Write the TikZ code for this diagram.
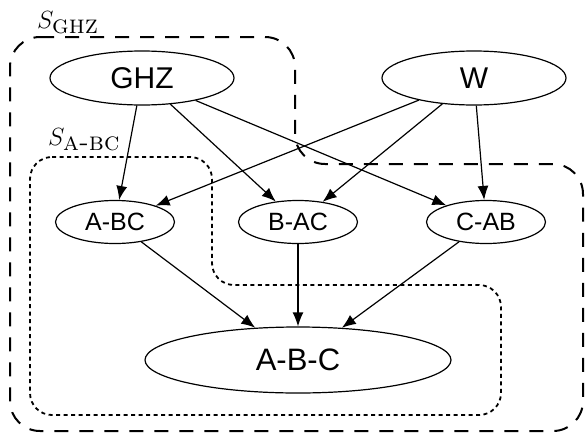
\documentclass[tikz,border=0pt]{standalone}
\usepackage{fontspec}
\newfontfamily\arialfont{Liberation Sans}
\usetikzlibrary{arrows.meta, shapes.geometric, positioning}

\begin{document}
\begin{tikzpicture}[
  x=1pt, y=-1pt,
  >={Latex[length=14pt,width=11pt]},
  state/.style={
    ellipse,
    draw=black, line width=1.2pt,
    fill=white,
    inner sep=0pt
  },
  topstate/.style={state, minimum width=184pt, minimum height=54pt,
    font=\arialfont\fontsize{30}{36}\selectfont},
  cutstate/.style={state, minimum width=119pt, minimum height=43pt,
    font=\arialfont\fontsize{25}{30}\selectfont},
  sepstate/.style={state, minimum width=306pt, minimum height=66pt,
    font=\arialfont\fontsize{31}{37}\selectfont},
  region/.style={line width=2pt, dash pattern=on 14pt off 11pt, rounded corners=30pt},
  subregion/.style={line width=1.8pt, dash pattern=on 4pt off 3.5pt, rounded corners=22pt},
  setlabel/.style={anchor=base west, inner sep=0pt, font=\fontsize{26}{30}\selectfont},
  arrow/.style={->, line width=1.2pt}
]
\useasboundingbox (0,0) rectangle (586,434);

% sets
\draw[region] (10,37) -- (295,37) -- (295,164) -- (583,164) -- (583,431) -- (10,431) -- cycle;
\draw[subregion] (30,157) -- (212,157) -- (212,285) -- (501,285) -- (501,415) -- (30,415) -- cycle;

\node[setlabel] (sghz) at (37,28) {$S_{\textsc{ghz}}$};
\node[setlabel] (sabc) at (48,145) {$S_{\textsc{a-bc}}$};

% states
\node[topstate] (ghz) at (142,78) {GHZ};
\node[topstate] (w) at (474,78) {W};

\node[cutstate] (abc) at (115,222) {A-BC};
\node[cutstate] (bac) at (298,222) {B-AC};
\node[cutstate] (cab) at (486,222) {C-AB};

\node[sepstate] (sep) at (298,360) {A-B-C};

\draw[arrow] (ghz) -- (abc);
\draw[arrow] (ghz) -- (bac);
\draw[arrow] (ghz) -- (cab);
\draw[arrow] (w) -- (abc);
\draw[arrow] (w) -- (bac);
\draw[arrow] (w) -- (cab);
\draw[arrow] (abc) -- (sep);
\draw[arrow] (bac) -- (sep);
\draw[arrow] (cab) -- (sep);

\end{tikzpicture}
\end{document}
